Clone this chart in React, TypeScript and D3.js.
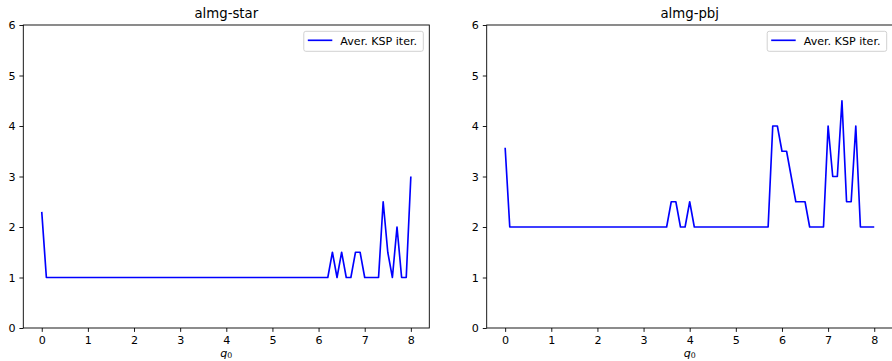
import React, { useEffect, useRef } from 'react'
import * as d3 from 'd3'

// q0 grid, 0 .. 8 in steps of 0.1
const q0 = d3.range(81).map(i => i / 10)

const starIter = [
  2.3, 1, 1, 1, 1, 1, 1, 1, 1, 1,
  1, 1, 1, 1, 1, 1, 1, 1, 1, 1,
  1, 1, 1, 1, 1, 1, 1, 1, 1, 1,
  1, 1, 1, 1, 1, 1, 1, 1, 1, 1,
  1, 1, 1, 1, 1, 1, 1, 1, 1, 1,
  1, 1, 1, 1, 1, 1, 1, 1, 1, 1,
  1, 1, 1, 1.5, 1, 1.5, 1, 1, 1.5, 1.5,
  1, 1, 1, 1, 2.5, 1.5, 1, 2, 1, 1,
  3,
]

const pbjIter = [
  3.57, 2, 2, 2, 2, 2, 2, 2, 2, 2,
  2, 2, 2, 2, 2, 2, 2, 2, 2, 2,
  2, 2, 2, 2, 2, 2, 2, 2, 2, 2,
  2, 2, 2, 2, 2, 2, 2.5, 2.5, 2, 2,
  2.5, 2, 2, 2, 2, 2, 2, 2, 2, 2,
  2, 2, 2, 2, 2, 2, 2, 2, 4, 4,
  3.5, 3.5, 3, 2.5, 2.5, 2.5, 2, 2, 2, 2,
  4, 3, 3, 4.5, 2.5, 2.5, 4, 2, 2, 2,
  2,
]

const panels = [
  { title: 'almg-star', values: starIter, left: 23.3 },
  { title: 'almg-pbj', values: pbjIter, left: 486.7 },
]
const xTicks = [0, 1, 2, 3, 4, 5, 6, 7, 8]
const yTicks = [0, 1, 2, 3, 4, 5, 6]
const legendLabel = 'Aver. KSP iter.'

const W = 892, H = 361
const top = 25, bottom = 328, axW = 406
const font = "'DejaVu Sans', sans-serif"
const fs = 11.1

export default function App() {
  const ref = useRef<SVGSVGElement>(null)

  useEffect(() => {
    const svg = d3.select(ref.current)
    svg.selectAll('*').remove()

    panels.forEach(p => {
      const x = d3.scaleLinear().domain([-0.4, 8.4]).range([p.left, p.left + axW])
      const y = d3.scaleLinear().domain([0, 6]).range([bottom, top])
      const g = svg.append('g')

      const line = d3.line<number>()
        .x((d, i) => x(q0[i]))
        .y(d => y(d))
      g.append('path')
        .datum(p.values)
        .attr('d', line)
        .attr('fill', 'none')
        .attr('stroke', '#0000ff')
        .attr('stroke-width', 1.65)
        .attr('stroke-linejoin', 'round')

      const xa = g.append('g')
        .attr('transform', `translate(0,${bottom})`)
        .call(d3.axisBottom(x).tickValues(xTicks).tickSize(3.9).tickPadding(3.9).tickFormat(d3.format('d')))
      const ya = g.append('g')
        .attr('transform', `translate(${p.left},0)`)
        .call(d3.axisLeft(y).tickValues(yTicks).tickSize(3.9).tickPadding(3.9).tickFormat(d3.format('d')))
      ;[xa, ya].forEach(a => {
        a.select('.domain').remove()
        a.selectAll('line').attr('stroke', '#000').attr('stroke-width', 0.9)
        a.selectAll('text').attr('fill', '#000').attr('font-size', fs).attr('font-family', font)
      })

      g.append('rect')
        .attr('x', p.left).attr('y', top)
        .attr('width', axW).attr('height', bottom - top)
        .attr('fill', 'none').attr('stroke', '#000').attr('stroke-width', 0.9)

      g.append('text')
        .attr('x', p.left + axW / 2).attr('y', 18.3)
        .attr('text-anchor', 'middle')
        .attr('font-family', font).attr('font-size', 13.3)
        .text(p.title)

      const xl = g.append('text')
        .attr('x', p.left + axW / 2).attr('y', 356.5)
        .attr('text-anchor', 'middle')
        .attr('font-family', font).attr('font-size', fs)
      xl.append('tspan').attr('font-style', 'italic').text('q')
      xl.append('tspan').attr('font-size', 7.8).attr('dy', 1.8).text('0')

      // legend
      const lw = 119.5
      const lx = p.left + axW - 6 - lw, ly = 31.3
      g.append('rect')
        .attr('x', lx).attr('y', ly).attr('width', lw).attr('height', 20)
        .attr('rx', 2)
        .attr('fill', '#fff').attr('fill-opacity', 0.8)
        .attr('stroke', '#ccc').attr('stroke-width', 0.9)
      g.append('line')
        .attr('x1', lx + 4).attr('x2', lx + 28.5).attr('y1', ly + 9).attr('y2', ly + 9)
        .attr('stroke', '#0000ff').attr('stroke-width', 1.65)
      g.append('text')
        .attr('x', lx + 36.5).attr('y', ly + 13.2)
        .attr('font-family', font).attr('font-size', fs)
        .text(legendLabel)
    })
  }, [])

  return (
    <svg ref={ref} width={W} height={H}
      style={{ position: 'absolute', left: 0, top: 0, background: '#fff' }} />
  )
}
